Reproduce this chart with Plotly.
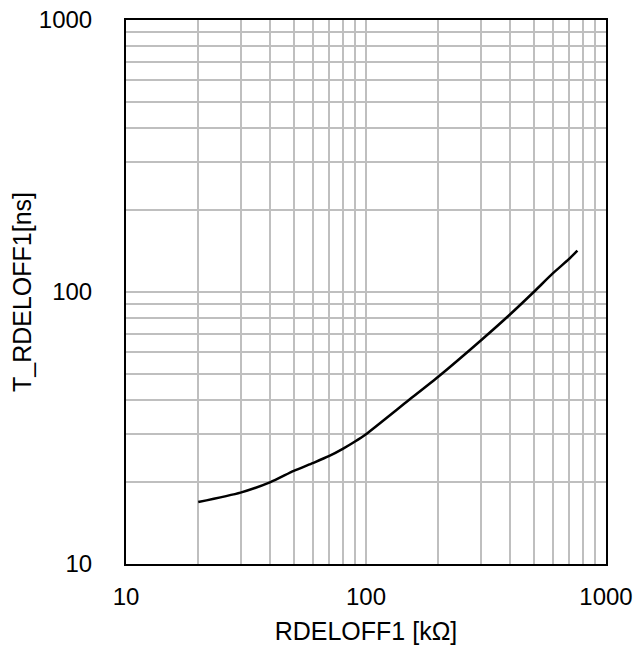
import plotly.graph_objects as go

# Data
rdeloff_kohm = [20, 30, 40, 50, 60, 70, 80, 90, 100, 150, 200, 300, 400, 500, 600, 700, 760]
t_rdeloff_ns = [16.9, 18.3, 20.0, 22.0, 23.5, 24.9, 26.5, 28.2, 30.0, 39.9, 48.8, 66.2, 83.0, 100.0, 117.0, 132.0, 142.0]

grid_vals = [10, 20, 30, 40, 50, 60, 70, 80, 90,
             100, 200, 300, 400, 500, 600, 700, 800, 900, 1000]
grid_text = ["10", "", "", "", "", "", "", "", "",
             "100", "", "", "", "", "", "", "", "", "1000"]

x_title = "RDELOFF1 [kΩ]"
y_title = "T_RDELOFF1[ns]"

FONT = "Liberation Sans, Arial, sans-serif"

fig = go.Figure()
fig.add_trace(go.Scatter(
    x=rdeloff_kohm, y=t_rdeloff_ns, mode="lines",
    line=dict(color="black", width=2.5, shape="spline", smoothing=0.6),
    showlegend=False, hoverinfo="skip",
))

axis_common = dict(
    type="log", range=[1, 3],
    tickmode="array", tickvals=grid_vals, ticktext=grid_text,
    showgrid=True, gridcolor="#bfbfbf", gridwidth=1.5,
    showline=True, linecolor="black", linewidth=2, mirror=True,
    ticks="", zeroline=False,
    tickfont=dict(family=FONT, size=24, color="black"),
    ticklabeloverflow="allow",
    automargin=False,
)

fig.update_xaxes(**axis_common, ticklabelstandoff=10,
                 title=dict(text=x_title, font=dict(family=FONT, size=25, color="black"), standoff=14))
fig.update_yaxes(**axis_common, ticklabelstandoff=27,
                 title=dict(text=y_title, font=dict(family=FONT, size=25, color="black"), standoff=0))

fig.update_layout(
    width=635, height=645,
    margin=dict(l=125.5, r=29.3, t=20, b=81, pad=0),
    plot_bgcolor="white", paper_bgcolor="white",
    font=dict(family=FONT, color="black"),
)

# remove the default page margin so the figure fills the window exactly
fig.write_html(
    "out.html",
    config={"displayModeBar": False},
    post_script="document.body.style.margin='0';document.body.style.overflow='hidden';",
)
